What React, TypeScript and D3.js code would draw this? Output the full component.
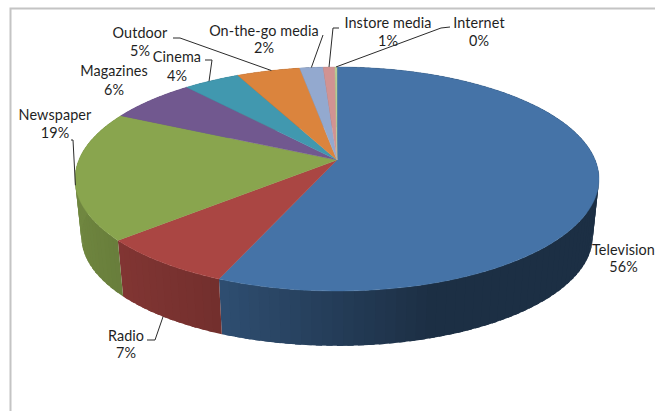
import React from "react";
import * as d3 from "d3";

// Share of advertising spend by medium, clockwise from twelve o'clock.
const categories = ["Television", "Radio", "Newspaper", "Magazines", "Cinema", "Outdoor", "On-the-go media", "Instore media", "Internet"];
const shares = [56.3, 7.3, 18.6, 6.4, 4.1, 4.6, 1.7, 0.85, 0.15];
const colors = ["#4573a7", "#aa4643", "#89a54e", "#71588f", "#4198af", "#db843d", "#93a9cf", "#d19392", "#b9cd96"];

// Label anchor (centre x, first baseline, second baseline) for each category.
const labelPlacement: [number, number, number][] = [
  [623.5, 255, 272],
  [126, 341, 358],
  [55, 120, 138],
  [114, 76, 95],
  [177, 62, 81],
  [140, 38, 56],
  [264, 36, 53],
  [388, 28, 46],
  [479, 28, 46],
];

// Elbow points for each leader, followed by where along the slice it lands.
const leaders: { slice: number; elbow: [number, number][]; along: number; rim: "top" | "bottom" }[] = [
  { slice: 1, elbow: [[147, 340], [155, 340]], along: 0.53, rim: "bottom" },
  { slice: 2, elbow: [[71, 140], [73, 140]], along: 0.42, rim: "top" },
  { slice: 4, elbow: [[205, 60], [212, 60]], along: 0.45, rim: "top" },
  { slice: 5, elbow: [[173, 38], [180, 38]], along: 0.55, rim: "top" },
  { slice: 6, elbow: [[323, 35]], along: 0.5, rim: "top" },
  { slice: 7, elbow: [[339, 28], [333, 28]], along: 0.5, rim: "top" },
  { slice: 8, elbow: [[450, 27], [441, 28]], along: 0.5, rim: "top" },
];

const WIDTH = 655;
const HEIGHT = 411;
const APEX = { x: 337, y: 160 };
const RADIUS_X = 258.2;
const RADIUS_Y = 108.8;
const TILT = -0.1696;
const BASE_SCALE = 0.976;
const BASE_DROP = 58;

type Pt = [number, number];

// Perspective projection of a point on the disc rim; angle 0 is the far edge.
const topRim = (angle: number): Pt => {
  const u = Math.sin(angle);
  const v = -Math.cos(angle);
  const w = 1 + TILT * v;
  return [APEX.x + (RADIUS_X * u) / w, APEX.y + (RADIUS_Y * v) / w];
};

const bottomRim = (angle: number): Pt => {
  const [x, y] = topRim(angle);
  return [APEX.x + (x - APEX.x) * BASE_SCALE, APEX.y + (y - APEX.y) * BASE_SCALE + BASE_DROP];
};

// The wall gets darker from the left of the disc towards the right.
const wallShade = d3.scaleLinear().domain([-1, -0.37, 0.3, 1]).range([0.82, 0.67, 0.41, 0.41]);

const shaded = (color: string, factor: number) => {
  const c = d3.rgb(color);
  return d3.rgb(c.r * factor, c.g * factor, c.b * factor).formatHex();
};

const percent = d3.format(".0%");
const line = d3.line<Pt>();

export default function App() {
  const total = d3.sum(shares);
  const slices = d3.pie<number>().sort(null).value((d) => d)(shares);
  const step = Math.PI / 90;

  const walls = slices.flatMap((s, i) => {
    const n = Math.max(1, Math.ceil((s.endAngle - s.startAngle) / step));
    const angle = d3.scaleLinear().domain([0, n]).range([s.startAngle, s.endAngle]);
    return d3.range(n).map((k) => {
      const a0 = angle(k);
      // Each band runs slightly under the next so no seams show between them.
      const a1 = k === n - 1 ? angle(k + 1) : angle(k + 1.6);
      const fill = shaded(colors[i], wallShade(Math.sin(angle(k + 0.5))));
      const d = line([topRim(a0), topRim(a1), bottomRim(a1), bottomRim(a0)]) + "Z";
      return <path key={`${i}-${k}`} d={d} fill={fill} />;
    });
  });

  const faces = slices.map((s, i) => {
    const n = Math.max(2, Math.ceil((s.endAngle - s.startAngle) / step));
    const angle = d3.scaleLinear().domain([0, n]).range([s.startAngle, s.endAngle]);
    const rim = d3.range(n + 1).map((k) => topRim(angle(k)));
    const d = line([[APEX.x, APEX.y] as Pt, ...rim]) + "Z";
    return <path key={categories[i]} d={d} fill={colors[i]} stroke={colors[i]} strokeWidth={0.4} />;
  });

  return (
    <svg
      width={WIDTH}
      height={HEIGHT}
      viewBox={`0 0 ${WIDTH} ${HEIGHT}`}
      style={{ position: "absolute", left: 0, top: 0, display: "block", background: "#fff" }}
    >
      <path d={`M${WIDTH},8.5H10.5V${HEIGHT}`} fill="none" stroke="#c4c4c4" strokeWidth={2} />
      <g>{walls}</g>
      <g>{faces}</g>
      <g fill="none" stroke="#2b2b2b" strokeWidth={1}>
        {leaders.map((l) => {
          const s = slices[l.slice];
          const a = s.startAngle + (s.endAngle - s.startAngle) * l.along;
          const end = l.rim === "top" ? topRim(a) : bottomRim(a);
          return <path key={l.slice} d={line([...l.elbow, end]) ?? ""} />;
        })}
      </g>
      <g fontFamily="Lato, 'Open Sans', sans-serif" fontSize={14.4} letterSpacing={0.1} fill="#1f1f1f" textAnchor="middle">
        {categories.map((name, i) => {
          const [x, y1, y2] = labelPlacement[i];
          return (
            <g key={name}>
              <text x={x} y={y1}>{name}</text>
              <text x={x} y={y2}>{percent(shares[i] / total)}</text>
            </g>
          );
        })}
      </g>
    </svg>
  );
}
